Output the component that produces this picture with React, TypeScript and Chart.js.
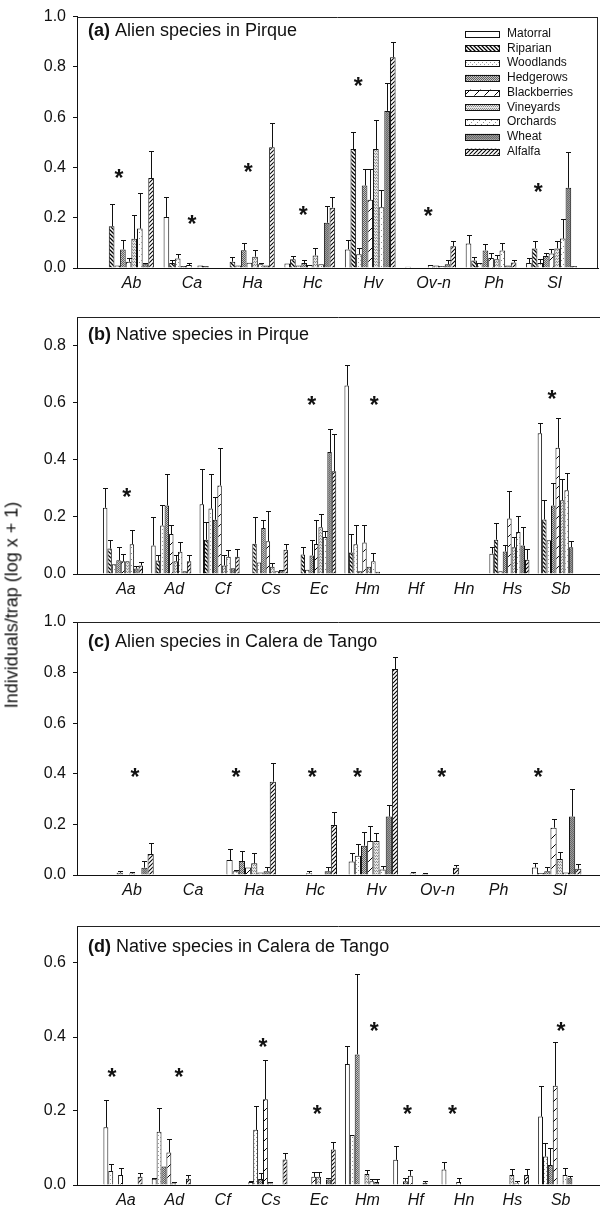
import React, { useEffect, useRef } from 'react';
import { Chart, registerables } from 'chart.js';
Chart.register(...registerables);

const FONT = "'Liberation Sans', Arial, Helvetica, sans-serif";

// ---------- categories ----------
const HABITATS_PIRQUE = ['Matorral', 'Riparian', 'Woodlands', 'Hedgerows', 'Blackberries', 'Vineyards', 'Orchards', 'Wheat', 'Alfalfa'];
const HABITATS_CALERA = ['Matorral', 'Woodlands', 'Hedgerows', 'Blackberries', 'Vineyards', 'Orchards', 'Wheat', 'Alfalfa'];
const ALIEN_SPECIES = ['Ab', 'Ca', 'Ha', 'Hc', 'Hv', 'Ov-n', 'Ph', 'Sl'];
const NATIVE_SPECIES = ['Aa', 'Ad', 'Cf', 'Cs', 'Ec', 'Hm', 'Hf', 'Hn', 'Hs', 'Sb'];
const Y_TITLE = 'Individuals/trap (log x + 1)';

// ---------- (a) Alien species in Pirque: mean per habitat (rows) x species (cols) ----------
const PIRQUE_ALIEN_MEAN = [
  [0, 0.203, 0, 0.018, 0.074, 0.005, 0.097, 0.02],
  [0.166, 0.02, 0.025, 0.035, 0.473, 0, 0.03, 0.078],
  [0.01, 0.038, 0.01, 0.01, 0.055, 0, 0.02, 0.02],
  [0.074, 0.008, 0.071, 0.02, 0.328, 0, 0.07, 0.048],
  [0.025, 0.012, 0.021, 0.012, 0.271, 0.012, 0.04, 0.058],
  [0.116, 0, 0.045, 0.05, 0.473, 0.01, 0.035, 0.078],
  [0.157, 0.01, 0.015, 0.015, 0.242, 0.008, 0.07, 0.117],
  [0.015, 0.008, 0.01, 0.18, 0.625, 0.015, 0.01, 0.319],
  [0.358, 0, 0.48, 0.24, 0.838, 0.087, 0.022, 0.008],
];
// upper end of the error bar (mean + SE)
const PIRQUE_ALIEN_UPPER = [
  [null, 0.282, null, null, 0.113, null, 0.13, 0.04],
  [0.256, 0.03, 0.042, 0.047, 0.539, null, 0.045, 0.108],
  [null, 0.054, null, null, 0.078, null, null, 0.035],
  [0.113, null, 0.1, 0.03, 0.394, null, 0.095, 0.058],
  [0.04, 0.02, null, null, 0.394, null, 0.06, 0.075],
  [0.21, null, 0.071, 0.078, 0.588, null, 0.05, 0.108],
  [0.298, null, 0.02, null, 0.311, null, 0.1, 0.196],
  [0.018, null, null, 0.246, 0.734, 0.03, null, 0.46],
  [0.464, null, 0.578, 0.282, 0.899, 0.108, 0.03, null],
];
const PIRQUE_ALIEN_SIG_X = [-0.16, 1.05, 1.98, 2.89, 3.8, 4.96, 6.78];
const PIRQUE_ALIEN_SIG_Y = [0.377, 0.196, 0.404, 0.232, 0.743, 0.229, 0.321];

// ---------- (b) Native species in Pirque ----------
const PIRQUE_NATIVE_MEAN = [
  [0.232, 0.1, 0.244, 0, 0, 0.66, 0, 0, 0.071, 0.493],
  [0.089, 0.047, 0.12, 0.106, 0.068, 0.075, 0, 0, 0.12, 0.191],
  [0.034, 0.17, 0.229, 0.04, 0.015, 0.104, 0, 0, 0.01, 0.118],
  [0.048, 0.24, 0.19, 0.161, 0.065, 0.01, 0, 0, 0.079, 0.24],
  [0.045, 0.14, 0.31, 0.115, 0.105, 0.11, 0, 0, 0.194, 0.442],
  [0.045, 0.045, 0.03, 0.025, 0.164, 0.025, 0, 0, 0.094, 0.258],
  [0.104, 0.078, 0.06, 0.01, 0.13, 0.045, 0, 0, 0.147, 0.293],
  [0.019, 0.01, 0.02, 0.012, 0.427, 0.008, 0, 0, 0.1, 0.094],
  [0.03, 0.045, 0.06, 0.085, 0.36, 0, 0, 0, 0.05, 0.002],
];
const PIRQUE_NATIVE_UPPER = [
  [0.3, 0.2, 0.367, null, null, 0.733, null, null, 0.094, 0.528],
  [0.12, 0.068, 0.182, 0.2, 0.094, 0.141, null, null, 0.18, 0.26],
  [null, 0.24, 0.351, null, null, 0.173, null, null, null, null],
  [0.094, 0.35, 0.27, 0.188, 0.118, null, null, null, 0.1, 0.32],
  [0.07, 0.17, 0.44, 0.22, 0.188, 0.173, null, null, 0.29, 0.546],
  [null, 0.065, 0.065, 0.04, 0.21, null, null, null, 0.13, 0.331],
  [0.153, 0.113, 0.083, null, 0.15, 0.075, null, null, 0.204, 0.353],
  [0.027, null, null, 0.015, 0.508, null, null, null, 0.165, 0.115],
  [0.042, 0.065, 0.089, 0.106, 0.49, null, null, null, 0.087, null],
];
const PIRQUE_NATIVE_SIG_X = [0.08, 3.91, 5.2, 8.88];
const PIRQUE_NATIVE_SIG_Y = [0.288, 0.608, 0.608, 0.632];

// ---------- (c) Alien species in Calera de Tango ----------
const CALERA_ALIEN_MEAN = [
  [0, 0, 0.059, 0, 0.053, 0.006, 0, 0.03],
  [0, 0, 0.015, 0, 0.076, 0, 0, 0.008],
  [0.009, 0, 0.055, 0, 0.116, 0.004, 0, 0.015],
  [0, 0, 0.03, 0.007, 0.134, 0, 0, 0.187],
  [0.006, 0, 0.046, 0, 0.134, 0, 0, 0.063],
  [0, 0, 0.01, 0, 0.022, 0, 0, 0.01],
  [0.029, 0, 0.015, 0.015, 0.231, 0, 0, 0.231],
  [0.083, 0, 0.369, 0.198, 0.814, 0.029, 0, 0.025],
];
const CALERA_ALIEN_UPPER = [
  [null, null, 0.101, null, 0.086, 0.01, null, 0.049],
  [null, null, 0.02, null, 0.121, null, null, null],
  [0.015, null, 0.095, null, 0.171, 0.008, null, 0.03],
  [null, null, null, 0.014, 0.195, null, null, 0.221],
  [0.01, null, 0.086, null, 0.165, null, null, 0.092],
  [null, null, null, null, 0.036, null, null, null],
  [0.057, null, 0.03, 0.03, 0.277, null, null, 0.34],
  [0.125, null, 0.444, 0.25, 0.863, 0.04, null, 0.045],
];
const CALERA_ALIEN_SIG_X = [0.1, 1.75, 3.0, 3.74, 5.12, 6.7];
const CALERA_ALIEN_SIG_Y = [0.408, 0.408, 0.408, 0.408, 0.408, 0.408];

// ---------- (d) Native species in Calera de Tango ----------
const CALERA_NATIVE_MEAN = [
  [0.156, 0.017, 0, 0.008, 0, 0.327, 0.068, 0.042, 0, 0.185],
  [0.038, 0.144, 0, 0.149, 0, 0.135, 0, 0, 0, 0.077],
  [0, 0.05, 0, 0.016, 0, 0.353, 0.01, 0, 0, 0.054],
  [0.027, 0.088, 0, 0.232, 0.022, 0, 0.025, 0.008, 0, 0.268],
  [0, 0.005, 0, 0.005, 0.022, 0.03, 0, 0, 0.027, 0],
  [0, 0, 0, 0, 0, 0.01, 0, 0, 0.005, 0.027],
  [0, 0, 0, 0, 0.015, 0.008, 0.006, 0, 0, 0.018],
  [0.022, 0.017, 0, 0.069, 0.096, 0, 0, 0, 0.027, 0],
];
const CALERA_NATIVE_UPPER = [
  [0.23, 0.02, null, 0.01, null, 0.377, 0.105, 0.063, null, 0.268],
  [0.056, 0.207, null, 0.214, null, null, null, null, null, 0.114],
  [null, null, null, 0.032, null, 0.569, 0.02, null, null, 0.099],
  [0.045, 0.123, null, 0.338, 0.036, null, 0.04, 0.018, null, 0.387],
  [null, 0.008, null, 0.008, 0.036, 0.04, null, null, 0.043, null],
  [null, null, null, null, null, 0.016, null, null, 0.01, 0.045],
  [null, null, null, null, 0.02, 0.016, 0.01, null, null, 0.024],
  [0.033, 0.027, null, 0.086, 0.115, null, null, null, 0.043, null],
];
const CALERA_NATIVE_SIG_X = [-0.23, 1.16, 2.9, 4.02, 5.2, 5.89, 6.82, 9.07];
const CALERA_NATIVE_SIG_Y = [0.306, 0.306, 0.387, 0.207, 0.43, 0.207, 0.207, 0.43];

// ---------- panel layout ----------
const PANELS: any[] = [
  {
    key: 'a', tag: '(a)', title: ' Alien species in Pirque', species: ALIEN_SPECIES, habitats: HABITATS_PIRQUE,
    mean: PIRQUE_ALIEN_MEAN, upper: PIRQUE_ALIEN_UPPER, sigX: PIRQUE_ALIEN_SIG_X, sigY: PIRQUE_ALIEN_SIG_Y,
    yMax: 1.0, xMin: -0.853, xMax: 7.77, catPct: 0.84,
    top: 0, height: 295, padTop: 15, padRight: 2, xAxisH: 27, titleY: 36, legend: true, rightBorder: true,
  },
  {
    key: 'b', tag: '(b)', title: ' Native species in Pirque', species: NATIVE_SPECIES, habitats: HABITATS_PIRQUE,
    mean: PIRQUE_NATIVE_MEAN, upper: PIRQUE_NATIVE_UPPER, sigX: PIRQUE_NATIVE_SIG_X, sigY: PIRQUE_NATIVE_SIG_Y,
    yMax: 0.9, xMin: -0.952, xMax: 9.876, catPct: 0.83,
    top: 295, height: 305, padTop: 22, padRight: 0, xAxisH: 26, titleY: 45, legend: false, rightBorder: false,
  },
  {
    key: 'c', tag: '(c)', title: ' Alien species in Calera de Tango', species: ALIEN_SPECIES, habitats: HABITATS_CALERA,
    mean: CALERA_ALIEN_MEAN, upper: CALERA_ALIEN_UPPER, sigX: CALERA_ALIEN_SIG_X, sigY: CALERA_ALIEN_SIG_Y,
    yMax: 1.0, xMin: -0.851, xMax: 7.71, catPct: 0.81,
    top: 600, height: 305, padTop: 22, padRight: 0, xAxisH: 30, titleY: 47, legend: false, rightBorder: false,
  },
  {
    key: 'd', tag: '(d)', title: ' Native species in Calera de Tango', species: NATIVE_SPECIES, habitats: HABITATS_CALERA,
    mean: CALERA_NATIVE_MEAN, upper: CALERA_NATIVE_UPPER, sigX: CALERA_NATIVE_SIG_X, sigY: CALERA_NATIVE_SIG_Y,
    yMax: 0.7, xMin: -0.952, xMax: 9.876, catPct: 0.81,
    top: 905, height: 304, padTop: 21, padRight: 0, xAxisH: 24, titleY: 47, legend: false, rightBorder: false,
  },
];

// ---------- fill patterns ----------
function buildPatterns(): Record<string, any> {
  const mk = (w: number, h: number, bg: string, draw: (g: CanvasRenderingContext2D) => void) => {
    const c = document.createElement('canvas');
    c.width = w; c.height = h;
    const g = c.getContext('2d') as CanvasRenderingContext2D;
    g.fillStyle = bg; g.fillRect(0, 0, w, h);
    draw(g);
    return g.createPattern(c, 'repeat');
  };
  const px = (g: CanvasRenderingContext2D, color: string, pts: number[][]) => {
    g.fillStyle = color;
    pts.forEach(([x, y]) => g.fillRect(x, y, 1, 1));
  };
  const back = (g: CanvasRenderingContext2D, s: number, lw: number) => {
    g.strokeStyle = '#000'; g.lineWidth = lw; g.beginPath();
    g.moveTo(-1, -1); g.lineTo(s + 1, s + 1);
    g.moveTo(-1, s - 1); g.lineTo(1, s + 1);
    g.moveTo(s - 1, -1); g.lineTo(s + 1, 1);
    g.stroke();
  };
  const fwd = (g: CanvasRenderingContext2D, s: number, lw: number) => {
    g.strokeStyle = '#000'; g.lineWidth = lw; g.beginPath();
    g.moveTo(-1, s + 1); g.lineTo(s + 1, -1);
    g.moveTo(-1, 1); g.lineTo(1, -1);
    g.moveTo(s - 1, s + 1); g.lineTo(s + 1, s - 1);
    g.stroke();
  };
  return {
    Matorral: '#ffffff',
    Riparian: mk(4, 4, '#fff', (g) => back(g, 4, 1.25)),
    Woodlands: mk(4, 4, '#fff', (g) => px(g, '#9a9a9a', [[0, 0], [2, 2]])),
    Hedgerows: mk(4, 4, '#c6c6c6', (g) => px(g, '#5e5e5e', [[0, 0], [2, 0], [1, 1], [3, 1], [0, 2], [2, 2], [1, 3], [3, 3]])),
    Blackberries: mk(10, 10, '#fff', (g) => fwd(g, 10, 1)),
    Vineyards: mk(4, 3, '#e6e6e6', (g) => px(g, '#8c8c8c', [[0, 0], [1, 1], [2, 0], [3, 1]])),
    Orchards: mk(6, 6, '#fff', (g) => px(g, '#8a8a8a', [[5, 0], [3, 2], [1, 4]])),
    Wheat: mk(2, 2, '#9c9c9c', (g) => px(g, '#6a6a6a', [[0, 0], [1, 1]])),
    Alfalfa: mk(4, 4, '#fff', (g) => fwd(g, 4, 1.05)),
  };
}

function makeChart(canvas: HTMLCanvasElement, p: any, patterns: Record<string, any>) {
  const datasets = p.habitats.map((h: string, k: number) => ({
    label: h,
    data: p.mean[k].map((v: number, i: number) => ({ x: i, y: v > 0 ? v : null })),
    upper: p.upper[k],
    backgroundColor: patterns[h],
    borderColor: '#111',
    borderWidth: 1,
    borderSkipped: 'start',
    categoryPercentage: p.catPct,
    barPercentage: 1,
  }));

  const decor = {
    id: 'decor' + p.key,
    afterDatasetsDraw(chart: any) {
      const ctx = chart.ctx;
      const ys = chart.scales.y;
      const xs = chart.scales.x;
      ctx.save();
      ctx.strokeStyle = '#111';
      ctx.lineWidth = 1;
      chart.data.datasets.forEach((ds: any, di: number) => {
        const meta = chart.getDatasetMeta(di);
        meta.data.forEach((bar: any, i: number) => {
          const v = ds.data[i].y;
          const u = ds.upper[i];
          if (v == null || u == null || u <= v) return;
          const x = Math.round(bar.x) + 0.5;
          const yTop = Math.round(ys.getPixelForValue(u)) + 0.5;
          const yBar = ys.getPixelForValue(v);
          ctx.beginPath();
          ctx.moveTo(x, yBar);
          ctx.lineTo(x, yTop);
          ctx.moveTo(x - 2.5, yTop);
          ctx.lineTo(x + 2.5, yTop);
          ctx.stroke();
        });
      });
      // significance asterisks
      const fs = 23;
      ctx.fillStyle = '#111';
      ctx.font = `bold ${fs}px ${FONT}`;
      ctx.textAlign = 'center';
      ctx.textBaseline = 'alphabetic';
      p.sigX.forEach((sx: number, i: number) => {
        const px = xs.getPixelForValue(sx);
        const py = ys.getPixelForValue(p.sigY[i]);
        ctx.fillText('*', px, py + fs * 0.57);
      });
      ctx.restore();
    },
    afterDraw(chart: any) {
      const ctx = chart.ctx;
      const a = chart.chartArea;
      ctx.save();
      // frame
      ctx.strokeStyle = '#222';
      ctx.lineWidth = 1;
      ctx.beginPath();
      const ty = Math.round(a.top) + 0.5;
      ctx.moveTo(a.left, ty);
      ctx.lineTo(a.right, ty);
      if (p.rightBorder) {
        const rx = Math.round(a.right) - 0.5;
        ctx.moveTo(rx, ty);
        ctx.lineTo(rx, a.bottom);
      }
      ctx.stroke();
      // title
      ctx.fillStyle = '#111';
      ctx.textAlign = 'left';
      ctx.textBaseline = 'alphabetic';
      ctx.font = `bold 18px ${FONT}`;
      const tx = a.left + 11;
      ctx.fillText(p.tag, tx, p.titleY);
      const w = ctx.measureText(p.tag).width;
      ctx.font = `18px ${FONT}`;
      ctx.fillText(p.title, tx + w, p.titleY);
      // legend
      if (p.legend) {
        ctx.font = `12px ${FONT}`;
        ctx.textBaseline = 'middle';
        chart.data.datasets.forEach((ds: any, k: number) => {
          const cy = a.top + 17 + k * 14.75;
          const sx = a.right - 133;
          ctx.fillStyle = ds.backgroundColor;
          ctx.fillRect(sx, cy - 3, 34, 6);
          ctx.strokeStyle = '#111';
          ctx.lineWidth = 1;
          ctx.strokeRect(Math.round(sx) + 0.5, Math.round(cy - 3) + 0.5, 34, 6);
          ctx.fillStyle = '#111';
          ctx.fillText(ds.label, sx + 42, cy);
        });
      }
      ctx.restore();
    },
  };

  return new Chart(canvas, {
    type: 'bar',
    data: { datasets },
    options: {
      animation: false,
      responsive: false,
      maintainAspectRatio: false,
      devicePixelRatio: 1,
      events: [],
      layout: { padding: { top: p.padTop, right: p.padRight, left: 0, bottom: 0 } },
      plugins: { legend: { display: false }, tooltip: { enabled: false }, title: { display: false } },
      scales: {
        x: {
          type: 'linear',
          min: p.xMin,
          max: p.xMax,
          offset: false,
          afterBuildTicks: (axis: any) => {
            axis.ticks = p.species.map((_: string, i: number) => ({ value: i }));
          },
          afterFit: (axis: any) => { axis.height = p.xAxisH; },
          grid: { display: false, drawTicks: false },
          border: { display: true, color: '#111', width: 1 },
          ticks: {
            autoSkip: false,
            maxRotation: 0,
            minRotation: 0,
            padding: 6,
            labelOffset: 3,
            color: '#111',
            font: { family: FONT, size: 16, style: 'italic' },
            callback: (v: any) => p.species[Math.round(Number(v))] ?? '',
          },
        },
        y: {
          min: 0,
          max: p.yMax,
          afterFit: (axis: any) => { axis.width = 77; },
          grid: { display: true, drawOnChartArea: false, drawTicks: true, tickLength: 4, color: '#111' },
          border: { display: true, color: '#111', width: 1 },
          ticks: {
            stepSize: 0.2,
            includeBounds: false,
            padding: 7,
            color: '#111',
            font: { family: FONT, size: 16 },
            callback: (v: any) => Number(v).toFixed(1),
          },
        },
      },
    } as any,
    plugins: [decor],
  } as any);
}

function PanelCanvas({ p }: { p: any }) {
  const ref = useRef<HTMLCanvasElement>(null);
  useEffect(() => {
    if (!ref.current) return;
    const chart = makeChart(ref.current, p, buildPatterns());
    return () => chart.destroy();
  }, [p]);
  return (
    <canvas
      ref={ref}
      width={600}
      height={p.height}
      style={{ position: 'absolute', left: 0, top: p.top, width: 600, height: p.height, display: 'block' }}
    />
  );
}

export default function App() {
  return (
    <div style={{ position: 'absolute', left: 0, top: 0, width: 600, height: 1209, background: '#fff', overflow: 'hidden' }}>
      {PANELS.map((p) => (
        <PanelCanvas key={p.key} p={p} />
      ))}
      <div
        style={{
          position: 'absolute',
          left: 12,
          top: 605,
          transform: 'translate(-50%, -50%) rotate(-90deg)',
          whiteSpace: 'nowrap',
          font: `18px ${FONT}`,
          color: '#111',
        }}
      >
        {Y_TITLE}
      </div>
    </div>
  );
}
